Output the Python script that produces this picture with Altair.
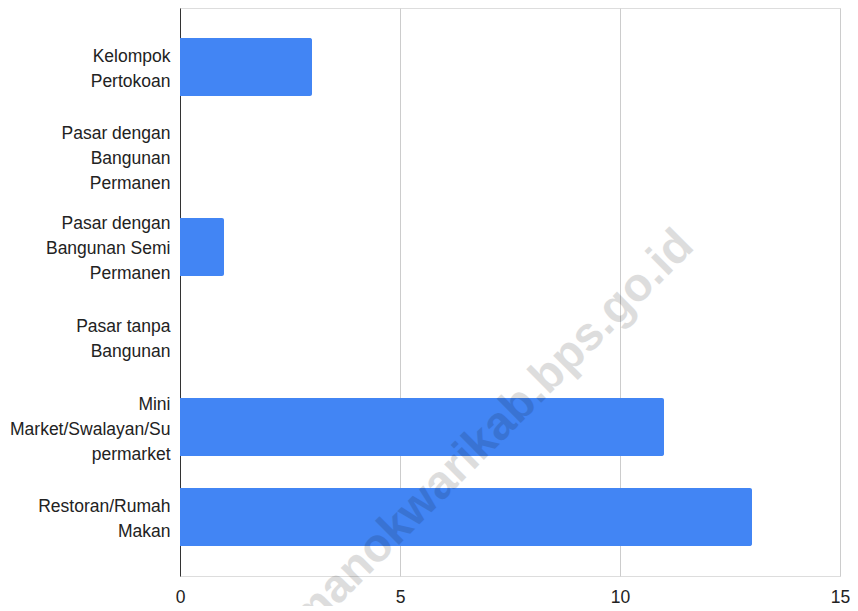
import altair as alt
import pandas as pd

categories = [
    "Kelompok\nPertokoan",
    "Pasar dengan\nBangunan\nPermanen",
    "Pasar dengan\nBangunan Semi\nPermanen",
    "Pasar tanpa\nBangunan",
    "Mini\nMarket/Swalayan/Su\npermarket",
    "Restoran/Rumah\nMakan",
]
values = [3, 0, 1, 0, 11, 13]
x_ticks = [0, 5, 10, 15]
watermark = "manokwarikab.bps.go.id"

df = pd.DataFrame({"kategori": categories, "jumlah": values})

FONT = "Liberation Sans"
LH = 25

bars = alt.Chart(df).mark_bar(color="#4285F4", cornerRadiusEnd=2).encode(
    y=alt.Y(
        "kategori:N",
        sort=categories,
        title=None,
        scale=alt.Scale(paddingInner=0.356, paddingOuter=0.333),
        axis=alt.Axis(
            labelExpr="split(datum.label, '\\n')",
            labelFont=FONT,
            labelFontSize=17.5,
            labelColor="#222222",
            labelLineHeight=LH,
            labelPadding=10,
            labelLimit=200,
            labelOffset={
                "condition": {
                    "test": "length(split(datum.label, '\\n')) == 3",
                    "value": -LH + 2.5,
                },
                "value": -LH / 2 + 2.5,
            },
            ticks=False,
            domain=True,
            domainColor="#333333",
            domainWidth=1,
            grid=False,
        ),
    ),
    x=alt.X(
        "jumlah:Q",
        title=None,
        scale=alt.Scale(domain=[0, 15], nice=False),
        axis=alt.Axis(
            values=x_ticks,
            labelFont=FONT,
            labelFontSize=17.5,
            labelColor="#222222",
            labelPadding=12,
            labelFlush=False,
            ticks=False,
            domain=False,
            grid=True,
            gridColor="#cccccc",
            gridWidth=1,
        ),
    ),
)

wm = alt.Chart(pd.DataFrame({"t": [watermark]})).mark_text(
    font=FONT,
    fontSize=47,
    fontWeight="bold",
    angle=315,
    align="center",
    baseline="middle",
    color="#000000",
    opacity=0.13,
).encode(
    text="t:N",
    x=alt.value(312),
    y=alt.value(424),
)

chart = (
    alt.layer(bars, wm)
    .properties(
        width=660,
        height=568,
        autosize=alt.AutoSizeParams(type="none"),
        padding={"left": 172, "top": 0, "right": 10, "bottom": 30},
    )
    .configure_view(stroke=None)
    .configure(background="white")
)

chart.save("out.html", embed_options={"renderer": "svg", "actions": False})
